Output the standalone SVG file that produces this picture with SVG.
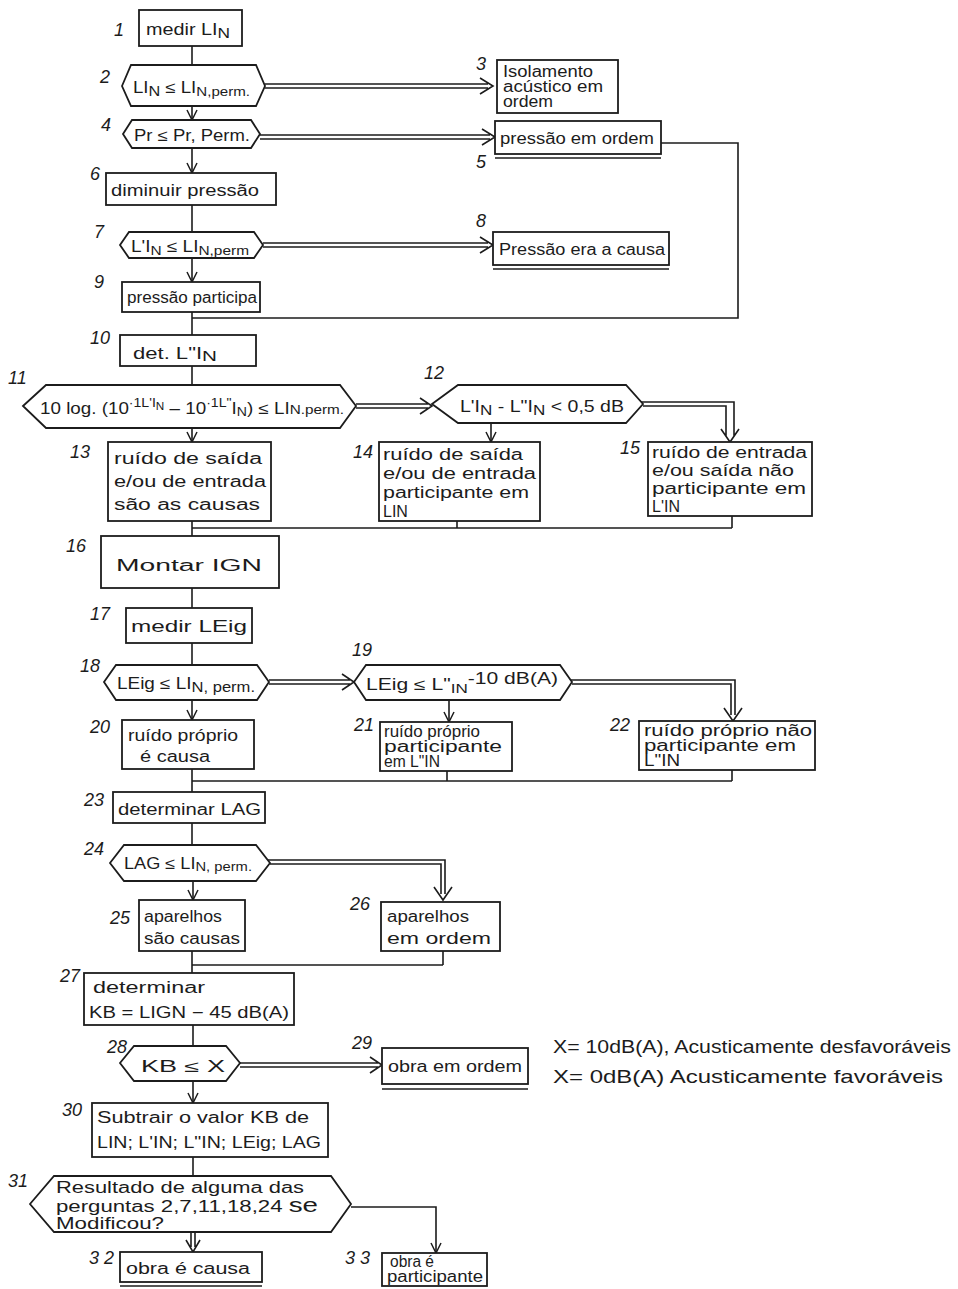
<svg xmlns="http://www.w3.org/2000/svg" width="958" height="1289" viewBox="0 0 958 1289">
<defs>
<style>
.b{fill:#fff;stroke:#1c1c1c;stroke-width:1.8}
.l{fill:none;stroke:#1c1c1c;stroke-width:1.6}
.h{fill:none;stroke:#1c1c1c;stroke-width:1.6;stroke-linejoin:miter}
.t{font-family:"Liberation Sans",Arial,sans-serif;fill:#1c1c1c;font-size:16px}
.n{font-family:"Liberation Sans",Arial,sans-serif;fill:#1c1c1c;font-size:18px;font-style:italic}
.lg{font-family:"Liberation Sans",Arial,sans-serif;fill:#1c1c1c;font-size:19px}
</style>
<marker id="ar" viewBox="0 0 12 12" refX="11" refY="6" markerWidth="12" markerHeight="12" markerUnits="userSpaceOnUse" orient="auto">
<path d="M1,1 L11,6 L1,11" fill="none" stroke="#1c1c1c" stroke-width="1.5"/>
</marker>
</defs>
<rect width="958" height="1289" fill="#fff"/>

<g id="connectors">
<path class="l" d="M192,46 V65"/>
<path class="l" d="M192,205 V232"/>
<path class="l" d="M192,312 V335"/>
<path class="l" d="M661,143 H738 V318 H192"/>
<path class="l" d="M192,366 V385"/>
<path class="l" d="M192,521 V536 M457,521 V528 M732,516 V528 M192,528 H732"/>
<path class="l" d="M192,588 V608"/>
<path class="l" d="M192,643 V665"/>
<path class="l" d="M192,769 V792 M447,771 V781 M732,770 V781 M192,781 H732"/>
<path class="l" d="M192,823 V845"/>
<path class="l" d="M192,951 V973 M443,951 V965 M192,965 H443"/>
<path class="l" d="M193,1025 V1046"/>
<path class="l" d="M193,1157 V1176"/>
<path class="l" marker-end="url(#ar)" d="M192,107 V120"/>
<path class="l" marker-end="url(#ar)" d="M192,148 V173"/>
<path class="l" marker-end="url(#ar)" d="M192,258 V282"/>
<path class="l" marker-end="url(#ar)" d="M192,428 V442"/>
<path class="l" marker-end="url(#ar)" d="M491,423 V442"/>
<path class="l" marker-end="url(#ar)" d="M192,700 V720"/>
<path class="l" marker-end="url(#ar)" d="M449,700 V722"/>
<path class="l" marker-end="url(#ar)" d="M193,881 V900"/>
<path class="l" marker-end="url(#ar)" d="M193,1081 V1103"/>
<path class="l" marker-end="url(#ar)" d="M351,1207 H436 V1253"/>
<path class="h" d="M265,84 H488 M265,88 H488 M480,78 L493,86 L480,94"/>
<path class="h" d="M260,135 H490 M260,139 H490 M482,129 L495,137 L482,145"/>
<path class="h" d="M263,243 H488 M263,247 H488 M480,237 L493,245 L480,253"/>
<path class="h" d="M356,404 H428 M356,408 H428 M420,398 L432,406 L420,414"/>
<path class="h" d="M641,402 H734 V436 M643,406 H726 V436 M721,429 L730,442 L739,429"/>
<path class="h" d="M269,680 H350 M269,684 H350 M342,674 L354,682 L342,690"/>
<path class="h" d="M570,680 H735 V715 M572,684 H731 V715 M724,708 L733,721 L742,708"/>
<path class="h" d="M268,860 H445 V894 M270,864 H441 V894 M434,887 L443,900 L452,887"/>
<path class="h" d="M240,1063 H378 M240,1067 H378 M370,1057 L382,1065 L370,1073"/>
<path class="h" d="M191,1232 V1247 M195,1232 V1247 M186,1240 L193,1252 L200,1240"/>
</g>

<g id="n1">
<rect class="b" x="139" y="10" width="103" height="36"/>
<text class="t" x="146" y="35" font-size="20" textLength="84" lengthAdjust="spacingAndGlyphs">medir LI<tspan font-size="14" dy="3">N</tspan></text>
<text class="n" x="114" y="36">1</text>
</g>
<g id="n2">
<polygon class="b" points="122,86 131,65 256,65 265,86 256,106 131,106"/>
<text class="t" x="133" y="93" font-size="20" textLength="117" lengthAdjust="spacingAndGlyphs">LI<tspan font-size="14" dy="3">N</tspan><tspan dy="-3"> ≤ LI</tspan><tspan font-size="13" dy="3">N,perm.</tspan></text>
<text class="n" x="100" y="83">2</text>
</g>
<g id="n3">
<rect class="b" x="497" y="60" width="121" height="53"/>
<text class="t" x="503" y="77" font-size="14" textLength="90" lengthAdjust="spacingAndGlyphs">Isolamento</text>
<text class="t" x="503" y="92" font-size="14" textLength="100" lengthAdjust="spacingAndGlyphs">acústico em</text>
<text class="t" x="503" y="107" font-size="14" textLength="50" lengthAdjust="spacingAndGlyphs">ordem</text>
<text class="n" x="476" y="70">3</text>
</g>
<g id="n4">
<polygon class="b" points="123,134 132,120 251,120 260,134 251,148 132,148"/>
<text class="t" x="134" y="141" font-size="18" textLength="116" lengthAdjust="spacingAndGlyphs">Pr ≤ Pr, Perm.</text>
<text class="n" x="101" y="131">4</text>
</g>
<g id="n5">
<rect class="b" x="495" y="121" width="166" height="33"/>
<path class="l" d="M495,158 H661"/>
<text class="t" x="500" y="144" font-size="18" textLength="154" lengthAdjust="spacingAndGlyphs">pressão em ordem</text>
<text class="n" x="476" y="168">5</text>
</g>
<g id="n6">
<rect class="b" x="106" y="173" width="170" height="32"/>
<text class="t" x="111" y="196" font-size="19" textLength="148" lengthAdjust="spacingAndGlyphs">diminuir pressão</text>
<text class="n" x="90" y="180">6</text>
</g>
<g id="n7">
<polygon class="b" points="120,245 129,232 254,232 263,245 254,258 129,258"/>
<text class="t" x="131" y="252" font-size="19" textLength="118" lengthAdjust="spacingAndGlyphs">L'I<tspan font-size="13" dy="3">N</tspan><tspan dy="-3"> ≤ LI</tspan><tspan font-size="13" dy="3">N,perm</tspan></text>
<text class="n" x="94" y="238">7</text>
</g>
<g id="n8">
<rect class="b" x="493" y="232" width="176" height="33"/>
<path class="l" d="M493,269 H669"/>
<text class="t" x="499" y="255" font-size="18" textLength="166" lengthAdjust="spacingAndGlyphs">Pressão era a causa</text>
<text class="n" x="476" y="227">8</text>
</g>
<g id="n9">
<rect class="b" x="122" y="282" width="138" height="30"/>
<text class="t" x="127" y="303" font-size="16" textLength="130" lengthAdjust="spacingAndGlyphs">pressão participa</text>
<text class="n" x="94" y="288">9</text>
</g>
<g id="n10">
<rect class="b" x="120" y="335" width="136" height="31"/>
<text class="t" x="133" y="359" font-size="22" textLength="84" lengthAdjust="spacingAndGlyphs">det. L"I<tspan font-size="15" dy="2">N</tspan></text>
<text class="n" x="90" y="344">10</text>
</g>
<g id="n11">
<polygon class="b" points="23,406 46,385 340,385 356,406 340,428 46,428"/>
<text class="t" x="40" y="414" font-size="19" textLength="304" lengthAdjust="spacingAndGlyphs">10 log. (10<tspan dy="-7" font-size="12">·1L'I</tspan><tspan dy="3" font-size="10">N</tspan><tspan dy="4"> – 10</tspan><tspan dy="-7" font-size="12">·1L"</tspan><tspan dy="7">I</tspan><tspan font-size="12" dy="2">N</tspan><tspan dy="-2">) ≤ LI</tspan><tspan font-size="13">N.perm.</tspan></text>
<text class="n" x="8" y="384">11</text>
</g>
<g id="n12">
<polygon class="b" points="432,404 458,385 626,385 643,404 626,423 458,423"/>
<text class="t" x="460" y="412" font-size="22" textLength="164" lengthAdjust="spacingAndGlyphs">L'I<tspan font-size="14" dy="3">N</tspan><tspan dy="-3"> - L"I</tspan><tspan font-size="14" dy="3">N</tspan><tspan dy="-3"> &lt; 0,5 dB</tspan></text>
<text class="n" x="424" y="379">12</text>
</g>
<g id="n13">
<rect class="b" x="108" y="442" width="163" height="79"/>
<text class="t" x="114" y="464" font-size="19" textLength="148" lengthAdjust="spacingAndGlyphs">ruído de saída</text>
<text class="t" x="114" y="487" font-size="19" textLength="152" lengthAdjust="spacingAndGlyphs">e/ou de entrada</text>
<text class="t" x="114" y="510" font-size="19" textLength="146" lengthAdjust="spacingAndGlyphs">são as causas</text>
<text class="n" x="70" y="458">13</text>
</g>
<g id="n14">
<rect class="b" x="379" y="442" width="161" height="79"/>
<text class="t" x="383" y="460" font-size="16" textLength="140" lengthAdjust="spacingAndGlyphs">ruído de saída</text>
<text class="t" x="383" y="479" font-size="16" textLength="153" lengthAdjust="spacingAndGlyphs">e/ou de entrada</text>
<text class="t" x="383" y="498" font-size="16" textLength="146" lengthAdjust="spacingAndGlyphs">participante em</text>
<text class="t" x="383" y="517" font-size="16">LIN</text>
<text class="n" x="353" y="458">14</text>
</g>
<g id="n15">
<rect class="b" x="648" y="442" width="164" height="74"/>
<text class="t" x="652" y="458" font-size="16" textLength="155" lengthAdjust="spacingAndGlyphs">ruído de entrada</text>
<text class="t" x="652" y="476" font-size="16" textLength="142" lengthAdjust="spacingAndGlyphs">e/ou saída não</text>
<text class="t" x="652" y="494" font-size="16" textLength="154" lengthAdjust="spacingAndGlyphs">participante em</text>
<text class="t" x="652" y="512" font-size="16">L'IN</text>
<text class="n" x="620" y="454">15</text>
</g>
<g id="n16">
<rect class="b" x="101" y="536" width="178" height="52"/>
<text class="t" x="116" y="571" font-size="25" textLength="146" lengthAdjust="spacingAndGlyphs">Montar IGN</text>
<text class="n" x="66" y="552">16</text>
</g>
<g id="n17">
<rect class="b" x="126" y="608" width="126" height="35"/>
<text class="t" x="131" y="632" font-size="19" textLength="116" lengthAdjust="spacingAndGlyphs">medir LEig</text>
<text class="n" x="90" y="620">17</text>
</g>
<g id="n18">
<polygon class="b" points="104,682 116,665 257,665 269,682 257,700 116,700"/>
<text class="t" x="117" y="689" font-size="19" textLength="138" lengthAdjust="spacingAndGlyphs">LEig ≤ LI<tspan font-size="14" dy="3">N, perm.</tspan></text>
<text class="n" x="80" y="672">18</text>
</g>
<g id="n19">
<polygon class="b" points="354,682 366,665 560,665 572,682 560,700 366,700"/>
<text class="t" x="366" y="690" font-size="19" textLength="192" lengthAdjust="spacingAndGlyphs">LEig ≤ L"<tspan font-size="13" dy="3">IN</tspan><tspan font-size="16" dy="-9">-10 dB(A)</tspan></text>
<text class="n" x="352" y="656">19</text>
</g>
<g id="n20">
<rect class="b" x="122" y="720" width="132" height="49"/>
<text class="t" x="128" y="741" font-size="17" textLength="110" lengthAdjust="spacingAndGlyphs">ruído próprio</text>
<text class="t" x="140" y="762" font-size="17" textLength="70" lengthAdjust="spacingAndGlyphs">é causa</text>
<text class="n" x="90" y="733">20</text>
</g>
<g id="n21">
<rect class="b" x="380" y="722" width="132" height="49"/>
<text class="t" x="384" y="737" font-size="13" textLength="96" lengthAdjust="spacingAndGlyphs">ruído próprio</text>
<text class="t" x="384" y="752" font-size="13" textLength="118" lengthAdjust="spacingAndGlyphs">participante</text>
<text class="t" x="384" y="767" font-size="13" textLength="56" lengthAdjust="spacingAndGlyphs">em L"IN</text>
<text class="n" x="354" y="731">21</text>
</g>
<g id="n22">
<rect class="b" x="639" y="721" width="176" height="49"/>
<text class="t" x="644" y="736" font-size="13" textLength="168" lengthAdjust="spacingAndGlyphs">ruído próprio não</text>
<text class="t" x="644" y="751" font-size="13" textLength="152" lengthAdjust="spacingAndGlyphs">participante em</text>
<text class="t" x="644" y="766" font-size="13" textLength="36" lengthAdjust="spacingAndGlyphs">L"IN</text>
<text class="n" x="610" y="731">22</text>
</g>
<g id="n23">
<rect class="b" x="113" y="792" width="152" height="31"/>
<text class="t" x="118" y="815" font-size="19" textLength="143" lengthAdjust="spacingAndGlyphs">determinar LAG</text>
<text class="n" x="84" y="806">23</text>
</g>
<g id="n24">
<polygon class="b" points="110,863 124,845 256,845 270,863 256,881 124,881"/>
<text class="t" x="124" y="869" font-size="17" textLength="128" lengthAdjust="spacingAndGlyphs">LAG ≤ LI<tspan font-size="13" dy="2">N, perm.</tspan></text>
<text class="n" x="84" y="855">24</text>
</g>
<g id="n25">
<rect class="b" x="139" y="900" width="106" height="51"/>
<text class="t" x="144" y="922" font-size="17" textLength="78" lengthAdjust="spacingAndGlyphs">aparelhos</text>
<text class="t" x="144" y="944" font-size="17" textLength="96" lengthAdjust="spacingAndGlyphs">são causas</text>
<text class="n" x="110" y="924">25</text>
</g>
<g id="n26">
<rect class="b" x="381" y="902" width="119" height="49"/>
<text class="t" x="387" y="922" font-size="17" textLength="82" lengthAdjust="spacingAndGlyphs">aparelhos</text>
<text class="t" x="387" y="944" font-size="17" textLength="104" lengthAdjust="spacingAndGlyphs">em ordem</text>
<text class="n" x="350" y="910">26</text>
</g>
<g id="n27">
<rect class="b" x="84" y="973" width="210" height="52"/>
<text class="t" x="93" y="993" font-size="18" textLength="112" lengthAdjust="spacingAndGlyphs">determinar</text>
<text class="t" x="89" y="1018" font-size="20" textLength="200" lengthAdjust="spacingAndGlyphs">KB = LIGN − 45 dB(A)</text>
<text class="n" x="60" y="982">27</text>
</g>
<g id="n28">
<polygon class="b" points="120,1063 134,1046 226,1046 240,1063 226,1081 134,1081"/>
<text class="t" x="141" y="1072" font-size="23" textLength="84" lengthAdjust="spacingAndGlyphs">KB ≤ X</text>
<text class="n" x="107" y="1053">28</text>
</g>
<g id="n29">
<rect class="b" x="382" y="1048" width="146" height="36"/>
<path class="l" d="M382,1089 H528"/>
<text class="t" x="388" y="1072" font-size="17" textLength="134" lengthAdjust="spacingAndGlyphs">obra em ordem</text>
<text class="n" x="352" y="1049">29</text>
</g>
<g id="legend">
<text class="lg" x="553" y="1053" textLength="398" lengthAdjust="spacingAndGlyphs">X= 10dB(A), Acusticamente desfavoráveis</text>
<text class="lg" x="553" y="1083" textLength="390" lengthAdjust="spacingAndGlyphs">X= 0dB(A) Acusticamente favoráveis</text>
</g>
<g id="n30">
<rect class="b" x="92" y="1103" width="236" height="54"/>
<text class="t" x="97" y="1123" font-size="17" textLength="212" lengthAdjust="spacingAndGlyphs">Subtrair o valor KB de</text>
<text class="t" x="97" y="1148" font-size="17" textLength="224" lengthAdjust="spacingAndGlyphs">LIN; L'IN; L"IN; LEig; LAG</text>
<text class="n" x="62" y="1116">30</text>
</g>
<g id="n31">
<polygon class="b" points="30,1204 54,1176 331,1176 351,1204 331,1232 54,1232"/>
<text class="t" x="56" y="1193" font-size="16" textLength="248" lengthAdjust="spacingAndGlyphs">Resultado de alguma das</text>
<text class="t" x="56" y="1212" font-size="16" textLength="262" lengthAdjust="spacingAndGlyphs">perguntas 2,7,11,18,24 <tspan font-size="20">se</tspan></text>
<text class="t" x="56" y="1229" font-size="16" textLength="108" lengthAdjust="spacingAndGlyphs">Modificou?</text>
<text class="n" x="8" y="1187">31</text>
</g>
<g id="n32">
<rect class="b" x="120" y="1252" width="142" height="30"/>
<path class="l" d="M120,1286 H262"/>
<text class="t" x="126" y="1274" font-size="18" textLength="124" lengthAdjust="spacingAndGlyphs">obra é causa</text>
<text class="n" x="89" y="1264">3 2</text>
</g>
<g id="n33">
<rect class="b" x="382" y="1253" width="105" height="33"/>
<text class="t" x="390" y="1267" font-size="13" textLength="44" lengthAdjust="spacingAndGlyphs">obra é</text>
<text class="t" x="387" y="1282" font-size="13" textLength="96" lengthAdjust="spacingAndGlyphs">participante</text>
<text class="n" x="345" y="1264">3 3</text>
</g>
</svg>
